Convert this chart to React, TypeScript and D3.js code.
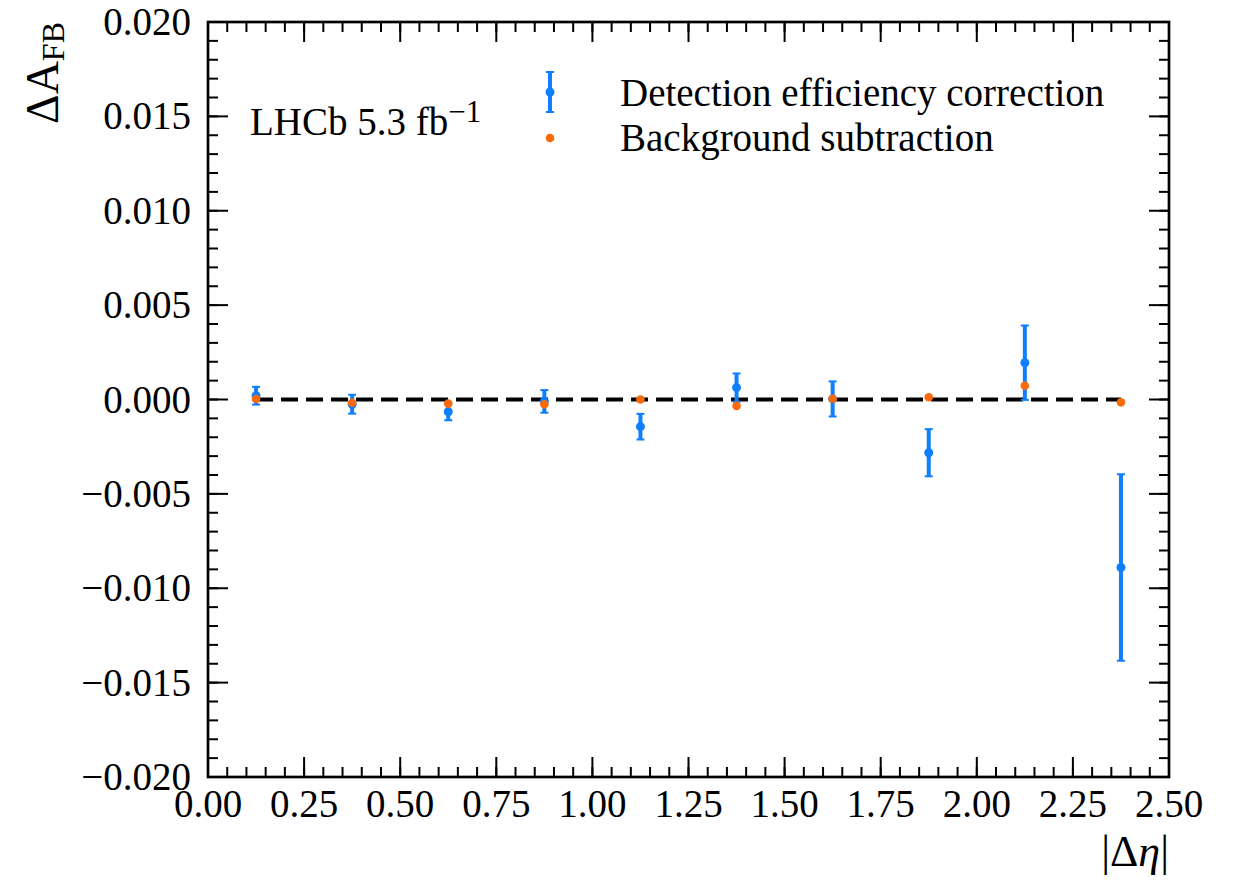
import React from "react";
import * as d3 from "d3";

const binCenters = [0.125, 0.375, 0.625, 0.875, 1.125, 1.375, 1.625, 1.875, 2.125, 2.375];
const effValues = [0.0002, -0.00025, -0.00065, -0.0001, -0.00144, 0.00063, 0.00003, -0.00282, 0.00195, -0.0089];
const effErrors = [0.00047, 0.0005, 0.00045, 0.0006, 0.00068, 0.00075, 0.00093, 0.00125, 0.00197, 0.00494];
const bkgValues = [0.00003, -0.00017, -0.00022, -0.00025, 0.0, -0.00034, 0.00004, 0.00012, 0.00073, -0.00015];
const xTicks = [0, 0.25, 0.5, 0.75, 1.0, 1.25, 1.5, 1.75, 2.0, 2.25, 2.5];
const yTicks = [-0.02, -0.015, -0.01, -0.005, 0, 0.005, 0.01, 0.015, 0.02];
const legendLabels = ["Detection efficiency correction", "Background subtraction"];

const W = 1235, H = 880;
const L = 208, R = 1169, T = 22, B = 777;
const BLUE = "#0f7fff";
const ORANGE = "#fb6a0a";
const FONT = "'Liberation Serif', 'DejaVu Serif', serif";

export default function App() {
  const x = d3.scaleLinear().domain([0, 2.5]).range([L, R]);
  const y = d3.scaleLinear().domain([-0.02, 0.02]).range([B, T]);
  const xMinor = d3.range(0, 2.5001, 0.05).map(v => +v.toFixed(3));
  const yMinor = d3.range(-0.02, 0.02001, 0.001).map(v => +v.toFixed(4));
  const fmtY = (v: number) => (v < 0 ? "\u2212" : "") + Math.abs(v).toFixed(3);
  const fmtX = (v: number) => v.toFixed(2);
  const majT = 20, minT = 10;
  const first = binCenters[0], last = binCenters[binCenters.length - 1];

  return (
    <svg width={W} height={H} style={{ position: "absolute", left: 0, top: 0, background: "#fff" }} fontFamily={FONT}>
      <rect x={0} y={0} width={W} height={H} fill="#fff" />
      {/* ticks */}
      <g stroke="#000" strokeWidth={2}>
        {xMinor.map((v, i) => (
          <g key={"xm" + i}>
            <line x1={x(v)} x2={x(v)} y1={B} y2={B - minT} />
            <line x1={x(v)} x2={x(v)} y1={T} y2={T + minT} />
          </g>
        ))}
        {xTicks.map((v, i) => (
          <g key={"xM" + i}>
            <line x1={x(v)} x2={x(v)} y1={B} y2={B - majT} />
            <line x1={x(v)} x2={x(v)} y1={T} y2={T + majT} />
          </g>
        ))}
        {yMinor.map((v, i) => (
          <g key={"ym" + i}>
            <line x1={L} x2={L + minT} y1={y(v)} y2={y(v)} />
            <line x1={R} x2={R - minT} y1={y(v)} y2={y(v)} />
          </g>
        ))}
        {yTicks.map((v, i) => (
          <g key={"yM" + i}>
            <line x1={L} x2={L + majT} y1={y(v)} y2={y(v)} />
            <line x1={R} x2={R - majT} y1={y(v)} y2={y(v)} />
          </g>
        ))}
      </g>
      <rect x={L} y={T} width={R - L} height={B - T} fill="none" stroke="#000" strokeWidth={2.7} />
      {/* tick labels */}
      <g fontSize={39} fill="#000">
        {xTicks.map((v, i) => (
          <text key={"xl" + i} x={x(v)} y={B + 40} textAnchor="middle">{fmtX(v)}</text>
        ))}
        {yTicks.map((v, i) => (
          <text key={"yl" + i} x={L - 17} y={y(v) + 13} textAnchor="end">{fmtY(v)}</text>
        ))}
      </g>
      {/* axis labels */}
      <text transform={`translate(58, ${T}) rotate(-90)`} textAnchor="end" fontSize={46}>
        {"\u0394A"}<tspan fontSize={32} dy={6}>FB</tspan>
      </text>
      <text x={R} y={866} textAnchor="end" fontSize={44}>
        {"|\u0394"}<tspan fontStyle="italic">{"\u03b7"}</tspan>{"|"}
      </text>
      {/* zero dashed line */}
      <line x1={x(first)} x2={x(last)} y1={y(0)} y2={y(0)} stroke="#000" strokeWidth={4} strokeDasharray="17,8" />
      {/* blue error bars */}
      <g stroke={BLUE} fill={BLUE}>
        {binCenters.map((c, i) => {
          const cx = x(c), lo = y(effValues[i] - effErrors[i]), hi = y(effValues[i] + effErrors[i]);
          return (
            <g key={"e" + i}>
              <line x1={cx} x2={cx} y1={lo} y2={hi} strokeWidth={4} />
              <line x1={cx - 4} x2={cx + 4} y1={lo} y2={lo} strokeWidth={2} />
              <line x1={cx - 4} x2={cx + 4} y1={hi} y2={hi} strokeWidth={2} />
              <circle cx={cx} cy={y(effValues[i])} r={4.5} stroke="none" />
            </g>
          );
        })}
      </g>
      {/* orange points */}
      <g fill={ORANGE}>
        {binCenters.map((c, i) => (
          <circle key={"b" + i} cx={x(c)} cy={y(bkgValues[i])} r={4.3} />
        ))}
      </g>
      {/* legend */}
      <g>
        <line x1={550} x2={550} y1={72} y2={112} stroke={BLUE} strokeWidth={4} />
        <line x1={546} x2={554} y1={72} y2={72} stroke={BLUE} strokeWidth={2} />
        <line x1={546} x2={554} y1={112} y2={112} stroke={BLUE} strokeWidth={2} />
        <circle cx={550} cy={92} r={4.5} fill={BLUE} />
        <circle cx={550} cy={138} r={4.3} fill={ORANGE} />
        <text x={620} y={106} fontSize={39}>{legendLabels[0]}</text>
        <text x={620} y={151} fontSize={39}>{legendLabels[1]}</text>
      </g>
      <text x={250} y={135} fontSize={39}>
        LHCb 5.3 fb<tspan fontSize={31} dy={-13}>{"\u22121"}</tspan>
      </text>
    </svg>
  );
}
